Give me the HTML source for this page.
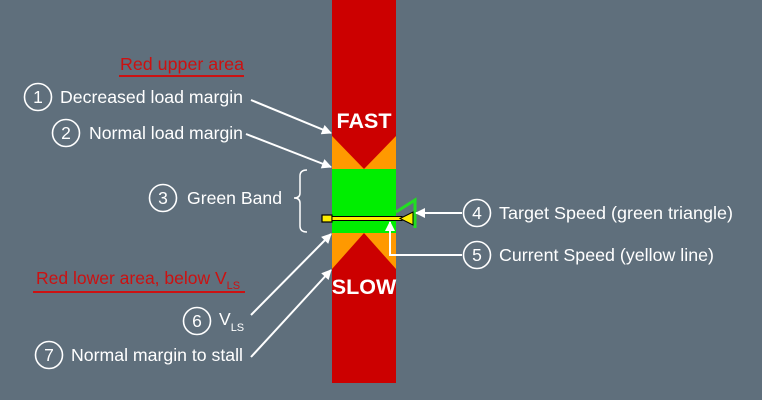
<!DOCTYPE html>
<html><head><meta charset="utf-8"><style>
html,body{margin:0;padding:0;background:#5f6f7c;}
svg{display:block}
text{font-family:"Liberation Sans",Arial,sans-serif;}
</style></head><body>
<svg width="762" height="400" viewBox="0 0 762 400" xmlns="http://www.w3.org/2000/svg">
<defs>
<marker id="ah2" viewBox="0 0 10 10" refX="9" refY="5" markerWidth="14" markerHeight="10" orient="auto" markerUnits="userSpaceOnUse">
<path d="M0,0 L10,5 L0,10 z" fill="#fff"/></marker>
</defs>
<rect width="762" height="400" fill="#5f6f7c"/>
<rect x="332" y="0" width="64" height="383" fill="#cc0000"/>
<rect x="332" y="136" width="64" height="133" fill="#ff9900"/>
<polygon points="332,136 396,136 364,169" fill="#cc0000"/>
<polygon points="332,269 396,269 364,233" fill="#cc0000"/>
<rect x="332" y="169" width="64" height="64" fill="#00ee00"/>
<text x="364" y="128" fill="#fff" font-size="21.5" font-weight="bold" text-anchor="middle">FAST</text>
<text x="364" y="294" fill="#fff" font-size="21.5" font-weight="bold" text-anchor="middle">SLOW</text>
<polyline points="396,212 415,200 415,228" fill="none" stroke="#22dd22" stroke-width="3"/>
<rect x="322" y="215" width="10" height="7" fill="#ffee00" stroke="#000" stroke-width="1.2"/>
<rect x="332" y="216.5" width="70" height="4" fill="#ffee00" stroke="#000" stroke-width="1"/>
<polygon points="400,218.5 413,212 413,225" fill="#ffee00" stroke="#000" stroke-width="1"/>
<text x="120" y="70" fill="#cc1111" font-size="17.5" textLength="124" lengthAdjust="spacingAndGlyphs">Red upper area</text>
<line x1="119" y1="76" x2="244" y2="76" stroke="#cc1111" stroke-width="2"/>
<text x="36" y="284" fill="#cc1111" font-size="17.5">Red lower area, below V<tspan font-size="11" dy="5">LS</tspan></text>
<line x1="33" y1="292" x2="245" y2="292" stroke="#cc1111" stroke-width="2"/>
<g fill="none" stroke="#fff" stroke-width="1.6">
<circle cx="38" cy="97" r="13.5"/>
<circle cx="66" cy="133" r="13.5"/>
<circle cx="163" cy="198" r="13.5"/>
<circle cx="477" cy="213" r="13.5"/>
<circle cx="477" cy="255" r="13.5"/>
<circle cx="197" cy="321" r="13.5"/>
<circle cx="49" cy="355" r="13.5"/>
</g>
<g fill="#fff" font-size="17.5">
<text x="38" y="103" text-anchor="middle">1</text>
<text x="66" y="139" text-anchor="middle">2</text>
<text x="163" y="204" text-anchor="middle">3</text>
<text x="477" y="219" text-anchor="middle">4</text>
<text x="477" y="261" text-anchor="middle">5</text>
<text x="197" y="327" text-anchor="middle">6</text>
<text x="49" y="361" text-anchor="middle">7</text>
<text x="60" y="103" textLength="183" lengthAdjust="spacingAndGlyphs">Decreased load margin</text>
<text x="89" y="139" textLength="154" lengthAdjust="spacingAndGlyphs">Normal load margin</text>
<text x="187" y="204" textLength="95" lengthAdjust="spacingAndGlyphs">Green Band</text>
<text x="499" y="219" textLength="234" lengthAdjust="spacingAndGlyphs">Target Speed (green triangle)</text>
<text x="499" y="261" textLength="215" lengthAdjust="spacingAndGlyphs">Current Speed (yellow line)</text>
<text x="219" y="325">V<tspan font-size="11" dy="6">LS</tspan></text>
<text x="71" y="361" textLength="172" lengthAdjust="spacingAndGlyphs">Normal margin to stall</text>
</g>
<path d="M307,170 Q300,170 300,176 L300,193 Q300,198 294,198 Q300,198 300,203 L300,226 Q300,232 307,232" fill="none" stroke="#fff" stroke-width="1.5"/>
<g stroke="#fff" stroke-width="2" fill="none">
<line x1="251" y1="100" x2="331" y2="133" marker-end="url(#ah2)"/>
<line x1="246" y1="134" x2="331" y2="167" marker-end="url(#ah2)"/>
<line x1="462" y1="213" x2="416" y2="213" marker-end="url(#ah2)"/>
<polyline points="462,255 390,255 390,222" marker-end="url(#ah2)"/>
<line x1="251" y1="315" x2="331" y2="234" marker-end="url(#ah2)"/>
<line x1="251" y1="357" x2="331" y2="270" marker-end="url(#ah2)"/>
</g>
</svg>
</body></html>
